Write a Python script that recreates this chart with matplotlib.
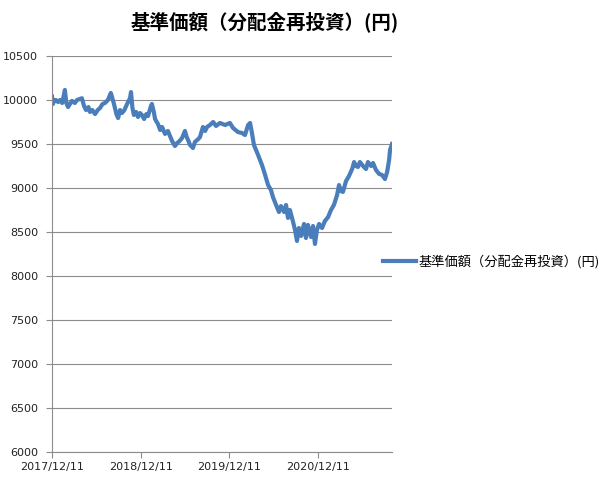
import numpy as np
import pandas as pd
import matplotlib
matplotlib.use("Agg")
import matplotlib.pyplot as plt

plt.rcParams['font.family'] = ['Noto Sans CJK JP', 'DejaVu Sans']

title = "基準価額（分配金再投資）(円)"
series_name = "基準価額（分配金再投資）(円)"

dates = [
    "2017-12-11", "2017-12-15", "2017-12-19", "2017-12-27", "2018-01-05", "2018-01-13",
    "2018-01-22", "2018-02-02", "2018-02-08", "2018-02-15", "2018-03-03", "2018-03-15",
    "2018-03-24", "2018-04-13", "2018-04-22", "2018-04-30", "2018-05-10", "2018-05-16",
    "2018-05-26", "2018-06-06", "2018-06-17", "2018-06-27", "2018-07-07", "2018-07-17",
    "2018-07-29", "2018-08-10", "2018-08-15", "2018-08-23", "2018-09-02", "2018-09-09",
    "2018-09-17", "2018-09-25", "2018-10-05", "2018-10-16", "2018-10-28", "2018-11-01",
    "2018-11-07", "2018-11-13", "2018-11-22", "2018-11-30", "2018-12-08", "2018-12-16",
    "2018-12-25", "2019-01-03", "2019-01-10", "2019-01-22", "2019-01-26", "2019-02-03",
    "2019-02-08", "2019-02-20", "2019-03-01", "2019-03-09", "2019-03-21", "2019-04-02",
    "2019-04-12", "2019-04-19", "2019-05-01", "2019-05-10", "2019-05-20", "2019-05-30",
    "2019-06-11", "2019-06-18", "2019-06-24", "2019-07-02", "2019-07-14", "2019-07-22",
    "2019-08-05", "2019-08-12", "2019-08-24", "2019-09-02", "2019-09-10", "2019-09-22",
    "2019-10-05", "2019-10-17", "2019-11-02", "2019-11-23", "2019-12-13", "2019-12-26",
    "2020-01-15", "2020-02-01", "2020-02-13", "2020-02-26", "2020-03-05", "2020-03-12",
    "2020-03-21", "2020-04-07", "2020-04-23", "2020-05-06", "2020-05-18", "2020-05-30",
    "2020-06-07", "2020-06-20", "2020-07-02", "2020-07-10", "2020-07-23", "2020-07-31",
    "2020-08-08", "2020-08-16", "2020-08-29", "2020-09-06", "2020-09-14", "2020-09-22",
    "2020-10-01", "2020-10-13", "2020-10-21", "2020-10-29", "2020-11-11", "2020-11-19",
    "2020-11-27", "2020-12-05", "2020-12-14", "2020-12-26", "2021-01-07", "2021-01-20",
    "2021-02-01", "2021-02-13", "2021-02-26", "2021-03-06", "2021-03-14", "2021-03-22",
    "2021-04-04", "2021-04-16", "2021-04-29", "2021-05-07", "2021-05-15", "2021-05-23",
    "2021-05-31", "2021-06-13", "2021-06-25", "2021-07-03", "2021-07-16", "2021-07-24",
    "2021-08-05", "2021-08-18", "2021-08-30", "2021-09-11", "2021-09-20", "2021-09-28",
    "2021-10-02", "2021-10-10",
]

values = [
    10040, 9955, 9990, 10000, 9977, 10000,
    9966, 10114, 9966, 9920, 9990, 9966,
    10000, 10020, 9930, 9886, 9920, 9864,
    9886, 9840, 9886, 9910, 9955, 9966,
    10000, 10080, 10034, 9955, 9840, 9795,
    9886, 9852, 9886, 9955, 10020, 10090,
    9910, 9830, 9864, 9807, 9852, 9830,
    9784, 9840, 9818, 9930, 9955, 9864,
    9784, 9727, 9659, 9693, 9614, 9648,
    9580, 9534, 9477, 9511, 9534, 9568,
    9648, 9580, 9545, 9489, 9455, 9523,
    9557, 9580, 9693, 9648, 9693, 9716,
    9750, 9705, 9739, 9716, 9739, 9682,
    9636, 9625, 9602, 9716, 9739, 9636,
    9489, 9375, 9261, 9148, 9034, 8977,
    8898, 8807, 8727, 8795, 8727, 8807,
    8660, 8750, 8614, 8523, 8398, 8545,
    8455, 8591, 8432, 8580, 8443, 8568,
    8364, 8523, 8591, 8545, 8625, 8670,
    8750, 8807, 8920, 9034, 8966, 8955,
    9080, 9136, 9216, 9295, 9250, 9239,
    9295, 9250, 9216, 9295, 9250, 9284,
    9205, 9160, 9148, 9102, 9182, 9318,
    9432, 9500,
]

tick_dates = ["2017-12-11", "2018-12-11", "2019-12-11", "2020-12-11"]
tick_labels = ["2017/12/11", "2018/12/11", "2019/12/11", "2020/12/11"]

x = pd.to_datetime(dates)

fig = plt.figure(figsize=(6.12, 4.8), dpi=100)
ax = fig.add_axes([52 / 612, 1 - 452 / 480, 340 / 612, 396 / 480])

ax.plot(x, values, color="#4a7ebb", linewidth=3.0, label=series_name, solid_joinstyle="round")

ax.set_ylim(6000, 10500)
ax.set_yticks(np.arange(6000, 10501, 500))
ax.set_xlim(x[0], x[-1])
ax.set_xticks(pd.to_datetime(tick_dates))
ax.set_xticklabels(tick_labels, family="DejaVu Sans")
for lab in ax.get_yticklabels():
    lab.set_family("DejaVu Sans")

ax.grid(axis="y", color="#8c8c8c", linewidth=0.8)
ax.set_axisbelow(True)
for s in ["top", "right"]:
    ax.spines[s].set_visible(False)
for s in ["left", "bottom"]:
    ax.spines[s].set_color("#8c8c8c")
    ax.spines[s].set_linewidth(0.8)
ax.tick_params(axis="both", labelsize=8, color="#8c8c8c", length=4, labelcolor="#222222")
ax.tick_params(axis="y", pad=6)
ax.tick_params(axis="x", pad=3)

fig.text(265 / 612, 1 - 22 / 480, title, ha="center", va="center", fontsize=14, fontweight="bold")

fig.legend(loc="center left", bbox_to_anchor=(383 / 612, 1 - 262 / 480), frameon=False,
           fontsize=9.5, handlelength=2.5, handletextpad=0.2, borderpad=0, borderaxespad=0)

fig.savefig("out.png", dpi=100)
